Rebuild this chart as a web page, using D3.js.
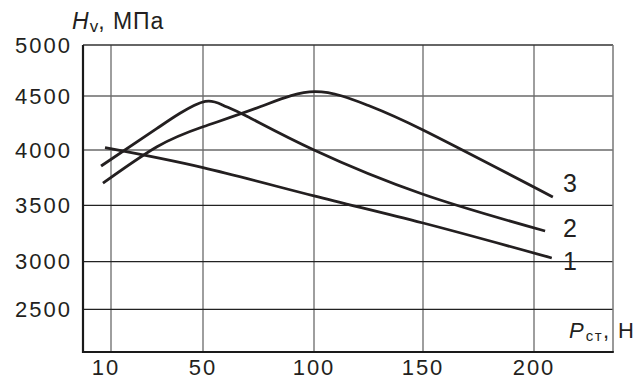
<!DOCTYPE html>
<html>
<head>
<meta charset="utf-8">
<script src="https://cdn.jsdelivr.net/npm/d3@7"></script>
<style>
  html, body { margin: 0; padding: 0; background: #fff; }
  svg { display: block; font-family: "Liberation Sans", Arial, sans-serif; }
</style>
</head>
<body>
<svg id="chart" width="635" height="380"></svg>
<script>
// Load P (N) tick marks and hardness Hv (MPa) grid values
const loadTicks = [10, 50, 100, 150, 200];
const hardnessTicks = [2500, 3000, 3500, 4000, 4500, 5000];

// Curve 1
const load1 = [7.4, 50, 100, 150, 208];
const hv1   = [4021, 3840, 3585, 3343, 3033];
// Curve 2
const load2 = [5.7, 30, 40, 51, 59, 70, 100, 150, 205];
const hv2   = [3855, 4200, 4340, 4450, 4415, 4310, 4000, 3600, 3272];
// Curve 3
const load3 = [6.5, 30, 50, 75.7, 100.5, 124.3, 150, 208.5];
const hv3   = [3700, 4030, 4215, 4400, 4542, 4417, 4185, 3575];

const curveNames = ["1", "2", "3"];
const curveLabelHv = [3008, 3300, 3700];

const svg = d3.select("#chart");
const ink = "#231f20";

// The grid spacing of the axes is uneven, so both scales are piecewise linear
const x = d3.scaleLinear().domain(loadTicks).range([111, 203, 314, 423, 534]);
const y = d3.scaleLinear().domain(hardnessTicks).range([309.3, 261.7, 205.3, 150, 96, 45]);

const frame = { left: 83, right: 613, top: 45, bottom: 352 };

// Grid
svg.append("g").selectAll("line").data(loadTicks).join("line")
  .attr("x1", d => x(d)).attr("x2", d => x(d))
  .attr("y1", frame.top).attr("y2", frame.bottom)
  .attr("stroke", "#6a6a6a").attr("stroke-width", 1.3);

svg.append("g").selectAll("line").data(hardnessTicks.filter(d => d < 5000)).join("line")
  .attr("x1", frame.left).attr("x2", frame.right)
  .attr("y1", d => y(d)).attr("y2", d => y(d))
  .attr("stroke", d => d >= 4000 ? "#6a6a6a" : "#222").attr("stroke-width", 1.3);

// Frame: thin top/right, heavy left/bottom
svg.append("line").attr("x1", frame.left).attr("x2", frame.right)
  .attr("y1", frame.top).attr("y2", frame.top).attr("stroke", "#333").attr("stroke-width", 1.3);
svg.append("line").attr("x1", frame.right).attr("x2", frame.right)
  .attr("y1", frame.top).attr("y2", frame.bottom).attr("stroke", "#777").attr("stroke-width", 1.5);
svg.append("path")
  .attr("d", `M${frame.left},${frame.top}V${frame.bottom}H${frame.right + 0.8}`)
  .attr("fill", "none").attr("stroke", "#1a1a1a").attr("stroke-width", 2.2);

// Tick labels
svg.append("g").selectAll("text").data(hardnessTicks).join("text")
  .attr("x", 72).attr("y", d => y(d)).attr("dy", "0.35em")
  .attr("text-anchor", "end").attr("font-size", 22).attr("letter-spacing", 2)
  .attr("fill", ink)
  .text(d => d);

svg.append("g").selectAll("text").data(loadTicks).join("text")
  .attr("x", (d, i) => x(d) + 1 - (i === 0 ? 6 : 1)).attr("y", 375)
  .attr("text-anchor", "middle").attr("font-size", 22).attr("letter-spacing", 2)
  .attr("fill", ink)
  .text(d => d);

// Curves (natural cubic spline through the readings)
const line = d3.line()
  .x(d => x(d[0])).y(d => y(d[1]))
  .curve(d3.curveNatural);

const series = [
  d3.zip(load1, hv1),
  d3.zip(load2, hv2),
  d3.zip(load3, hv3)
];

svg.append("g").selectAll("path").data(series).join("path")
  .attr("d", line)
  .attr("fill", "none").attr("stroke", ink).attr("stroke-width", 2.8);

// Curve numbers
svg.append("g").selectAll("text").data(curveNames).join("text")
  .attr("x", 570).attr("y", (d, i) => y(curveLabelHv[i])).attr("dy", "0.36em")
  .attr("text-anchor", "middle").attr("font-size", 25).attr("fill", ink)
  .text(d => d);

// Axis titles
const yTitle = svg.append("text").attr("x", 72).attr("y", 29)
  .attr("font-size", 23).attr("fill", ink);
yTitle.append("tspan").attr("font-style", "italic").text("H");
yTitle.append("tspan").attr("font-size", 17).attr("dy", 3).attr("dx", 1).text("v");
yTitle.append("tspan").attr("dy", -3).attr("letter-spacing", 1).text(", МПа");

const xTitle = svg.append("text").attr("x", 569).attr("y", 338)
  .attr("font-size", 22).attr("fill", ink);
xTitle.append("tspan").attr("font-style", "italic").text("P");
xTitle.append("tspan").attr("font-size", 15).attr("letter-spacing", 1.5)
  .attr("dy", 3).attr("dx", 2).text("ст");
xTitle.append("tspan").attr("dy", -3).text(",");
svg.append("text").attr("x", 618).attr("y", 338)
  .attr("font-size", 22).attr("fill", ink).text("Н");
</script>
</body>
</html>
